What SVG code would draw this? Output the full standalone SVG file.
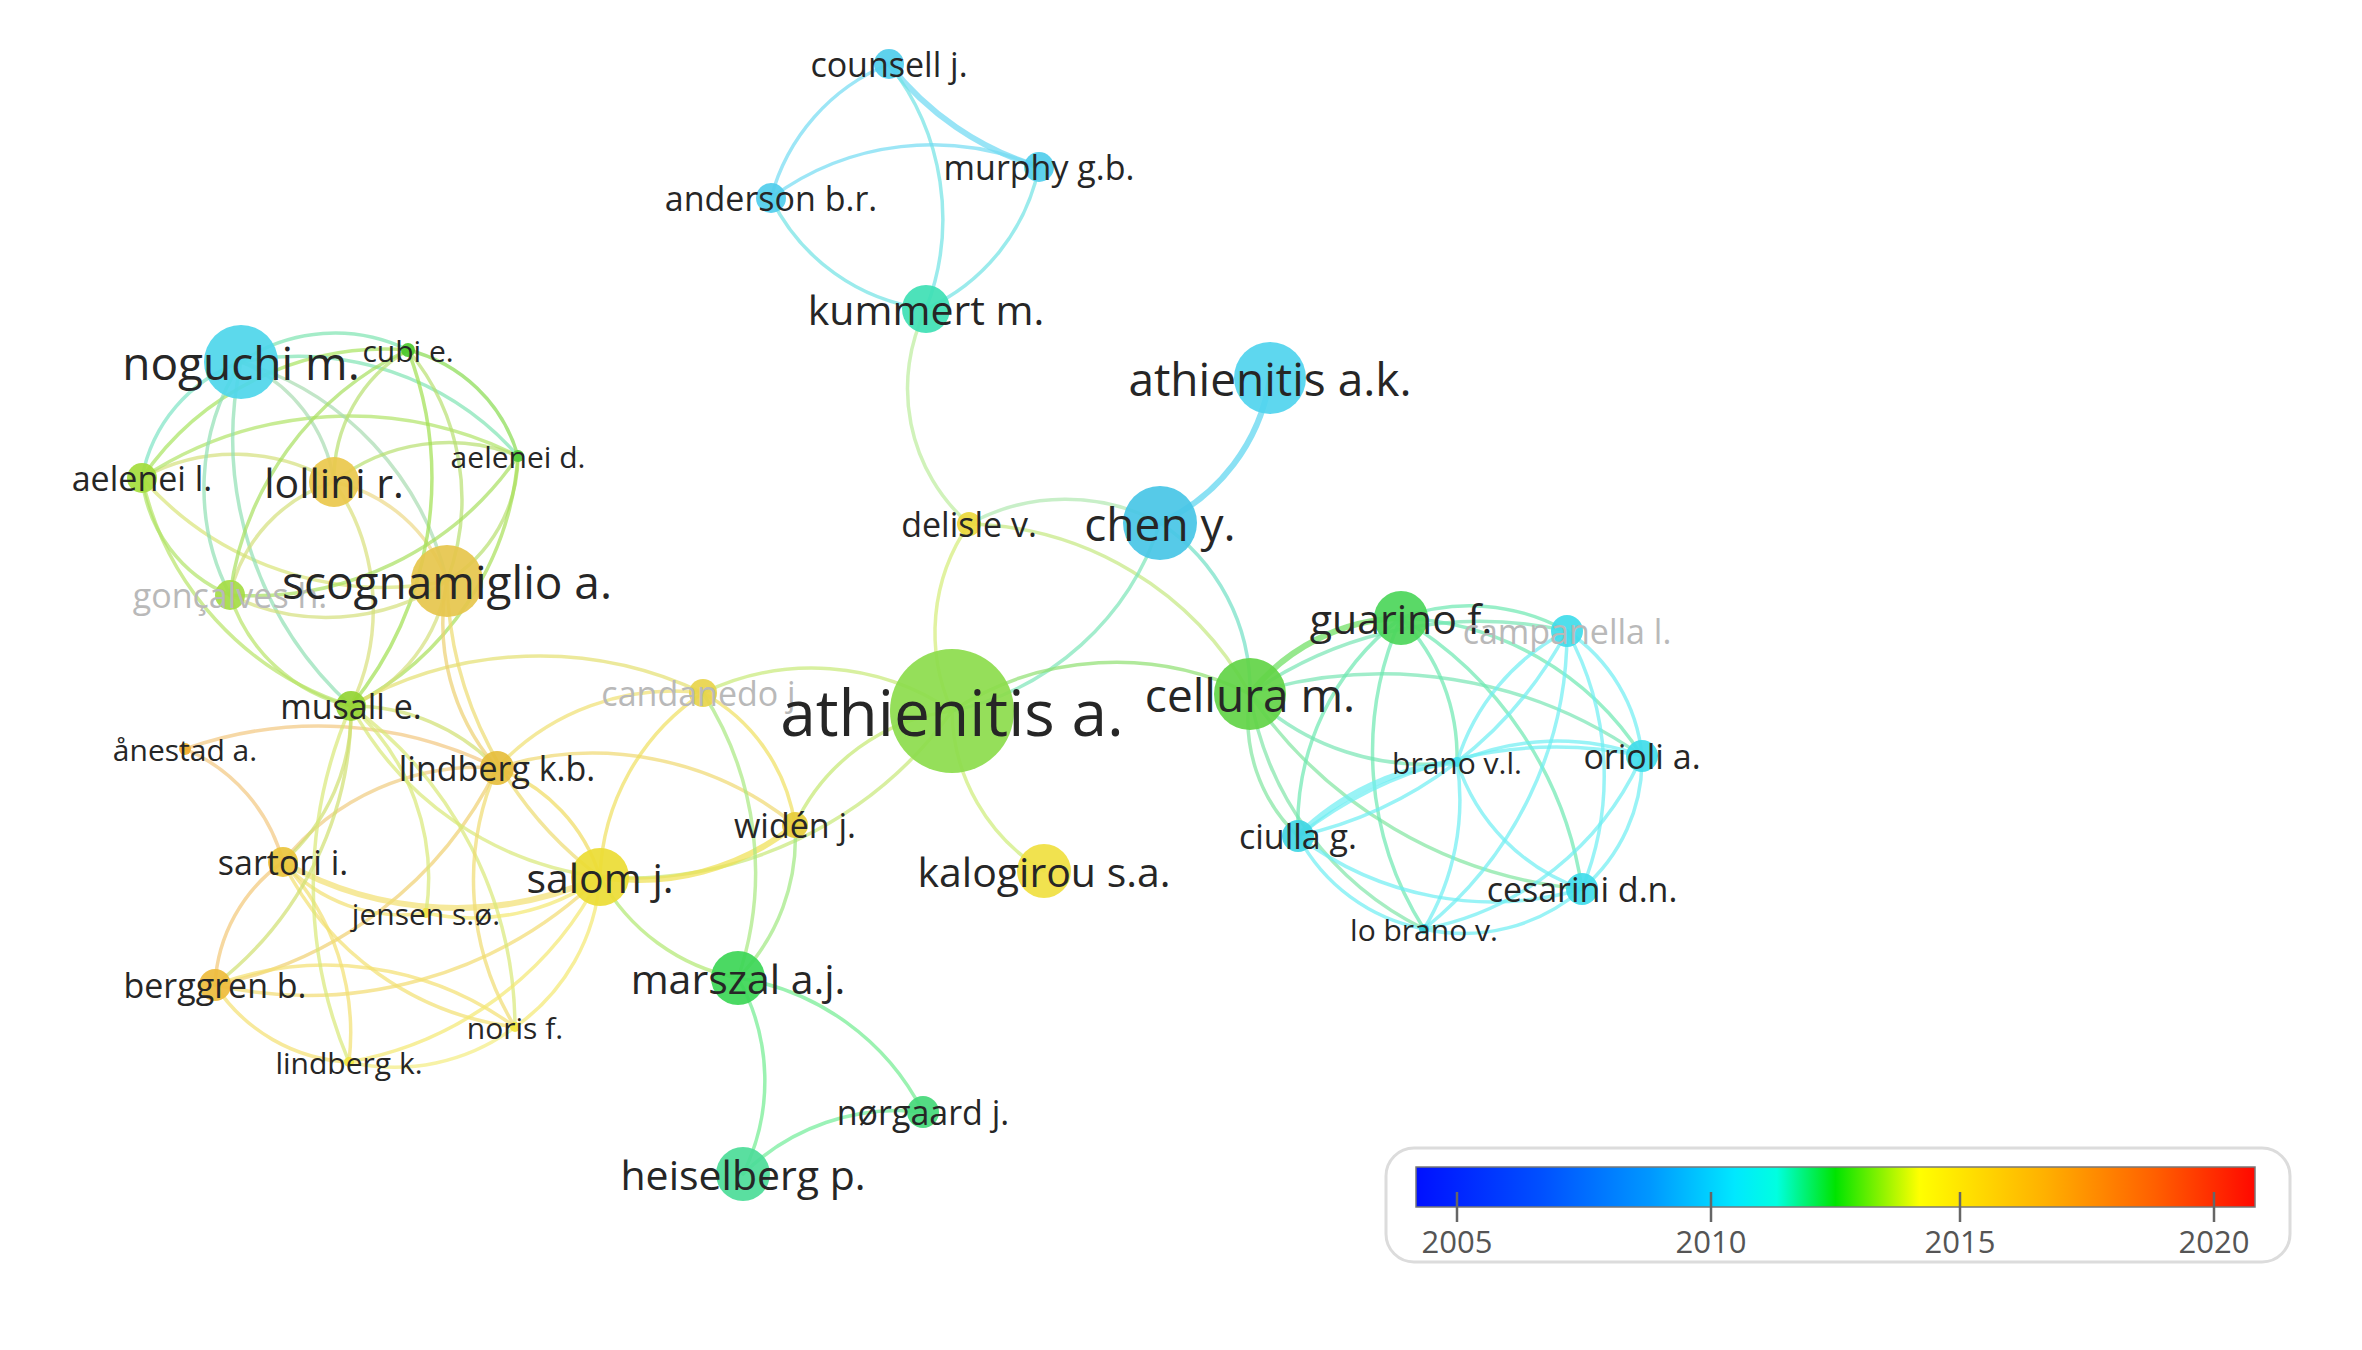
<svg xmlns="http://www.w3.org/2000/svg" width="2362" height="1350" viewBox="0 0 2362 1350">
<style>
.e{fill:none;stroke-width:3.5;stroke-opacity:.7;stroke-linecap:round}
.w{stroke-width:6}
circle{fill-opacity:.92}
text{font-family:"Open Sans","Noto Sans","Liberation Sans",sans-serif;text-anchor:middle;dominant-baseline:central;fill:#262626}
.xl{font-size:64px}.lg{font-size:46px}.md{font-size:41px}.sm{font-size:34px}.xs{font-size:30px}
.gr{fill:#b9b9b9}
.lt{font-size:31px;fill:#555}
</style>
<defs>
<linearGradient id="cb" x1="0" y1="0" x2="1" y2="0">
<stop offset="0" stop-color="#0010ff"/>
<stop offset="0.15" stop-color="#0050ff"/>
<stop offset="0.28" stop-color="#0098ff"/>
<stop offset="0.38" stop-color="#00e8ff"/>
<stop offset="0.43" stop-color="#00ffe0"/>
<stop offset="0.5" stop-color="#00e400"/>
<stop offset="0.6" stop-color="#ffff00"/>
<stop offset="0.75" stop-color="#ffb000"/>
<stop offset="0.88" stop-color="#ff6000"/>
<stop offset="1" stop-color="#ff0800"/>
</linearGradient>
</defs>
<rect width="2362" height="1350" fill="#ffffff"/>
<g id="connectors">
<path class="e w" stroke="#6cd8f2" d="M889 64 A300 300 0 0 0 1039 167"/>
<path class="e" stroke="#74dcf2" d="M889 64 A200 200 0 0 0 771 198"/>
<path class="e" stroke="#70e2e4" d="M889 64 A250 250 0 0 1 926 309"/>
<path class="e" stroke="#74dcf2" d="M771 198 A270 270 0 0 1 1039 167"/>
<path class="e" stroke="#70e2e4" d="M771 198 A200 200 0 0 0 926 309"/>
<path class="e" stroke="#70e2e4" d="M1039 167 A200 200 0 0 1 926 309"/>
<path class="e" stroke="#bcec9c" d="M926 309 A180 180 0 0 0 969 524"/>
<path class="e w" stroke="#58d4f0" d="M1270 378 A190 190 0 0 1 1160 523"/>
<path class="e" stroke="#b0e8b0" d="M969 524 A200 200 0 0 1 1160 523"/>
<path class="e" stroke="#c4e880" d="M969 524 A330 330 0 0 1 1250 694"/>
<path class="e" stroke="#d4ec78" d="M969 524 A190 190 0 0 0 952 711"/>
<path class="e" stroke="#7ce6b8" d="M1160 523 A280 280 0 0 1 952 711"/>
<path class="e" stroke="#70e0c4" d="M1160 523 A200 200 0 0 1 1250 694"/>
<path class="e" stroke="#8ee070" d="M952 711 A300 300 0 0 1 1250 694"/>
<path class="e" stroke="#cdec78" d="M952 711 A190 190 0 0 0 1044 871"/>
<path class="e" stroke="#c4e870" d="M952 711 A200 200 0 0 0 795 825"/>
<path class="e" stroke="#c8ea78" d="M952 711 A250 250 0 0 0 703 693"/>
<path class="e" stroke="#c8e878" d="M600 877 A400 400 0 0 0 952 711"/>
<path class="e w" stroke="#6ade5c" d="M1250 694 A200 200 0 0 1 1401 618"/>
<path class="e" stroke="#78e6b4" d="M1250 694 A400 400 0 0 1 1567 631"/>
<path class="e" stroke="#78e6b4" d="M1250 694 A450 450 0 0 1 1642 756"/>
<path class="e" stroke="#78e6b4" d="M1250 694 A250 250 0 0 0 1457 762"/>
<path class="e" stroke="#80e6a0" d="M1250 694 A160 160 0 0 0 1298 836"/>
<path class="e" stroke="#80e6a0" d="M1250 694 A450 450 0 0 0 1582 889"/>
<path class="e" stroke="#80e6a8" d="M1250 694 A320 320 0 0 0 1424 929"/>
<path class="e" stroke="#6ce8b0" d="M1401 618 A200 200 0 0 1 1567 631"/>
<path class="e" stroke="#6ce8b0" d="M1401 618 A300 300 0 0 1 1642 756"/>
<path class="e" stroke="#6ce8b0" d="M1401 618 A260 260 0 0 0 1298 836"/>
<path class="e" stroke="#6ce8b0" d="M1401 618 A380 380 0 0 1 1582 889"/>
<path class="e" stroke="#6ce8b0" d="M1401 618 A330 330 0 0 0 1424 929"/>
<path class="e" stroke="#6ce8b0" d="M1401 618 A200 200 0 0 1 1457 762"/>
<path class="e" stroke="#6eeef2" d="M1567 631 A170 170 0 0 1 1642 756"/>
<path class="e" stroke="#6eeef2" d="M1567 631 A400 400 0 0 1 1298 836"/>
<path class="e" stroke="#6eeef2" d="M1567 631 A300 300 0 0 1 1582 889"/>
<path class="e" stroke="#6eeef2" d="M1567 631 A380 380 0 0 1 1424 929"/>
<path class="e" stroke="#6eeef2" d="M1567 631 A220 220 0 0 0 1457 762"/>
<path class="e" stroke="#6eeef2" d="M1642 756 A420 420 0 0 0 1298 836"/>
<path class="e" stroke="#6eeef2" d="M1642 756 A170 170 0 0 1 1582 889"/>
<path class="e" stroke="#6eeef2" d="M1642 756 A250 250 0 0 0 1457 762"/>
<path class="e" stroke="#6eeef2" d="M1642 756 A300 300 0 0 1 1424 929"/>
<path class="e" stroke="#6eeef2" d="M1298 836 A320 320 0 0 0 1582 889"/>
<path class="e" stroke="#6eeef2" d="M1298 836 A180 180 0 0 0 1424 929"/>
<path class="e w" stroke="#6eeef2" d="M1298 836 A260 260 0 0 1 1457 762"/>
<path class="e" stroke="#6eeef2" d="M1582 889 A180 180 0 0 1 1424 929"/>
<path class="e" stroke="#6eeef2" d="M1457 762 A200 200 0 0 0 1582 889"/>
<path class="e" stroke="#6eeef2" d="M1457 762 A250 250 0 0 1 1424 929"/>
<path class="e" stroke="#7ee4c4" d="M142 478 A152 152 0 0 1 241 362"/>
<path class="e" stroke="#d4e07c" d="M142 478 A192 192 0 0 1 334 482"/>
<path class="e" stroke="#a8e460" d="M142 478 A295 295 0 0 1 408 350"/>
<path class="e" stroke="#b0e468" d="M142 478 A377 377 0 0 1 518 456"/>
<path class="e" stroke="#d8e478" d="M447 581 A322 322 0 0 1 142 478"/>
<path class="e" stroke="#b8e468" d="M351 706 A309 309 0 0 1 142 478"/>
<path class="e" stroke="#b0e468" d="M230 595 A143 143 0 0 1 142 478"/>
<path class="e" stroke="#a8dcb0" d="M241 362 A154 154 0 0 1 334 482"/>
<path class="e" stroke="#7ee4b0" d="M241 362 A167 167 0 0 1 408 350"/>
<path class="e" stroke="#80e4b4" d="M241 362 A293 293 0 0 1 518 456"/>
<path class="e" stroke="#a8dcb0" d="M241 362 A301 301 0 0 1 447 581"/>
<path class="e" stroke="#90e0b4" d="M351 706 A362 362 0 0 1 241 362"/>
<path class="e" stroke="#90e0b4" d="M230 595 A233 233 0 0 1 241 362"/>
<path class="e" stroke="#b8e070" d="M334 482 A150 150 0 0 1 408 350"/>
<path class="e" stroke="#b8e070" d="M334 482 A186 186 0 0 1 518 456"/>
<path class="e" stroke="#ecd888" d="M334 482 A156 156 0 0 1 447 581"/>
<path class="e" stroke="#d8e07c" d="M334 482 A224 224 0 0 1 351 706"/>
<path class="e" stroke="#d4e07c" d="M230 595 A153 153 0 0 1 334 482"/>
<path class="e" stroke="#88dc50" d="M408 350 A153 153 0 0 1 518 456"/>
<path class="e" stroke="#b8e070" d="M408 350 A233 233 0 0 1 447 581"/>
<path class="e" stroke="#a0e050" d="M408 350 A360 360 0 0 1 351 706"/>
<path class="e" stroke="#a8e060" d="M230 595 A315 315 0 0 1 408 350"/>
<path class="e" stroke="#b8e070" d="M518 456 A147 147 0 0 1 447 581"/>
<path class="e" stroke="#a8e058" d="M518 456 A305 305 0 0 1 351 706"/>
<path class="e" stroke="#a8e060" d="M518 456 A321 321 0 0 1 230 595"/>
<path class="e" stroke="#d4e07c" d="M447 581 A162 162 0 0 1 351 706"/>
<path class="e" stroke="#d4e07c" d="M447 581 A218 218 0 0 1 230 595"/>
<path class="e" stroke="#b8e468" d="M351 706 A165 165 0 0 1 230 595"/>
<path class="e" stroke="#f2c880" d="M185 749 A400 400 0 0 1 497 768"/>
<path class="e" stroke="#f2c880" d="M185 749 A170 170 0 0 1 283 862"/>
<path class="e" stroke="#f0cc80" d="M283 862 A250 250 0 0 1 497 768"/>
<path class="e" stroke="#f2c878" d="M283 862 A160 160 0 0 0 215 985"/>
<path class="e" stroke="#f0d070" d="M215 985 A400 400 0 0 0 497 768"/>
<path class="e" stroke="#f2dc70" d="M215 985 A420 420 0 0 0 600 877"/>
<path class="e" stroke="#f4e070" d="M215 985 A320 320 0 0 1 515 1027"/>
<path class="e" stroke="#f4e070" d="M215 985 A170 170 0 0 0 349 1062"/>
<path class="e w" stroke="#f2e070" d="M283 862 A350 350 0 0 0 600 877"/>
<path class="e" stroke="#f2e070" d="M283 862 A160 160 0 0 0 426 913"/>
<path class="e" stroke="#f2e070" d="M283 862 A300 300 0 0 0 515 1027"/>
<path class="e" stroke="#f2e070" d="M283 862 A250 250 0 0 1 349 1062"/>
<path class="e" stroke="#d0e070" d="M351 706 A200 200 0 0 1 283 862"/>
<path class="e" stroke="#d0e070" d="M351 706 A350 350 0 0 1 215 985"/>
<path class="e" stroke="#d8e878" d="M351 706 A450 450 0 0 0 349 1062"/>
<path class="e" stroke="#d8e878" d="M351 706 A400 400 0 0 1 515 1027"/>
<path class="e" stroke="#d0e070" d="M351 706 A200 200 0 0 1 497 768"/>
<path class="e" stroke="#d8e878" d="M351 706 A330 330 0 0 0 600 877"/>
<path class="e" stroke="#d8e878" d="M351 706 A230 230 0 0 1 426 913"/>
<path class="e" stroke="#f0dc60" d="M497 768 A170 170 0 0 1 600 877"/>
<path class="e" stroke="#f0d870" d="M497 768 A320 320 0 0 1 795 825"/>
<path class="e" stroke="#f0dc70" d="M497 768 A280 280 0 0 0 515 1027"/>
<path class="e" stroke="#f0e060" d="M600 877 A230 230 0 0 1 703 693"/>
<path class="e w" stroke="#f0e050" d="M600 877 A250 250 0 0 0 795 825"/>
<path class="e" stroke="#b0e870" d="M600 877 A200 200 0 0 0 738 978"/>
<path class="e" stroke="#f4e870" d="M600 877 A350 350 0 0 1 349 1062"/>
<path class="e" stroke="#f4e870" d="M600 877 A200 200 0 0 1 515 1027"/>
<path class="e" stroke="#f4e870" d="M600 877 A220 220 0 0 1 426 913"/>
<path class="e" stroke="#f0e060" d="M703 693 A180 180 0 0 1 795 825"/>
<path class="e" stroke="#e4e070" d="M703 693 A380 380 0 0 0 351 706"/>
<path class="e" stroke="#f0e070" d="M703 693 A240 240 0 0 0 497 768"/>
<path class="e" stroke="#a8e880" d="M703 693 A330 330 0 0 1 738 978"/>
<path class="e" stroke="#a0e880" d="M795 825 A200 200 0 0 1 738 978"/>
<path class="e" stroke="#70ec90" d="M738 978 A210 210 0 0 1 743 1174"/>
<path class="e" stroke="#70ec90" d="M738 978 A250 250 0 0 1 923 1112"/>
<path class="e" stroke="#70ec98" d="M743 1174 A220 220 0 0 1 923 1112"/>
<path class="e" stroke="#f4ec80" d="M349 1062 A200 200 0 0 0 515 1027"/>
<path class="e" stroke="#ecd070" d="M447 581 A220 220 0 0 0 497 768"/>
<path class="e" stroke="#ecdc70" d="M447 581 A380 380 0 0 0 600 877"/>
</g>
<g id="n-counsell"><circle cx="889" cy="64" r="15" fill="#50cdec"/><text class="sm" x="889" y="64">counsell j.</text></g>
<g id="n-murphy"><circle cx="1039" cy="167" r="15" fill="#50cdec"/><text class="sm" x="1039" y="167">murphy g.b.</text></g>
<g id="n-anderson"><circle cx="771" cy="198" r="15" fill="#50cdec"/><text class="sm" x="771" y="198">anderson b.r.</text></g>
<g id="n-kummert"><circle cx="926" cy="309" r="24" fill="#3ee0b4"/><text class="md" x="926" y="309">kummert m.</text></g>
<g id="n-athienitis-ak"><circle cx="1270" cy="378" r="36" fill="#50d4ee"/><text class="lg" x="1270" y="378">athienitis a.k.</text></g>
<g id="n-chen"><circle cx="1160" cy="523" r="37" fill="#48c6e6"/><text class="lg" x="1160" y="523">chen y.</text></g>
<g id="n-delisle"><circle cx="969" cy="524" r="12" fill="#ecd83c"/><text class="sm" x="969" y="524">delisle v.</text></g>
<g id="n-candanedo"><circle cx="703" cy="693" r="14" fill="#e8d44a"/><text class="sm gr" x="703" y="693">candanedo j.</text></g>
<g id="n-athienitis-a"><circle cx="952" cy="711" r="62" fill="#8cdc4c"/><text class="xl" x="952" y="711">athienitis a.</text></g>
<g id="n-cellura"><circle cx="1250" cy="694" r="36" fill="#62d446"/><text class="lg" x="1250" y="694">cellura m.</text></g>
<g id="n-guarino"><circle cx="1401" cy="618" r="27" fill="#4cd65a"/><text class="md" x="1401" y="618">guarino f.</text></g>
<g id="n-campanella"><circle cx="1567" cy="631" r="16" fill="#40dcea"/><text class="sm gr" x="1567" y="631">campanella l.</text></g>
<g id="n-orioli"><circle cx="1642" cy="756" r="16" fill="#40dcea"/><text class="sm" x="1642" y="756">orioli a.</text></g>
<g id="n-brano"><circle cx="1457" cy="762" r="5" fill="#40dcea"/><text class="xs" x="1457" y="762">brano v.l.</text></g>
<g id="n-ciulla"><circle cx="1298" cy="836" r="16" fill="#40d6e4"/><text class="sm" x="1298" y="836">ciulla g.</text></g>
<g id="n-cesarini"><circle cx="1582" cy="889" r="16" fill="#40dcea"/><text class="sm" x="1582" y="889">cesarini d.n.</text></g>
<g id="n-lobrano"><circle cx="1424" cy="929" r="5" fill="#30c8d8"/><text class="xs" x="1424" y="929">lo brano v.</text></g>
<g id="n-kalogirou"><circle cx="1044" cy="871" r="27" fill="#f0e040"/><text class="md" x="1044" y="871">kalogirou s.a.</text></g>
<g id="n-widen"><circle cx="795" cy="825" r="13" fill="#e6cc3a"/><text class="sm" x="795" y="825">widén j.</text></g>
<g id="n-salom"><circle cx="600" cy="877" r="29" fill="#ecdc34"/><text class="md" x="600" y="877">salom j.</text></g>
<g id="n-marszal"><circle cx="738" cy="978" r="27" fill="#3cd656"/><text class="md" x="738" y="978">marszal a.j.</text></g>
<g id="n-heiselberg"><circle cx="743" cy="1174" r="27" fill="#4cdc98"/><text class="md" x="743" y="1174">heiselberg p.</text></g>
<g id="n-norgaard"><circle cx="923" cy="1112" r="16" fill="#44d878"/><text class="sm" x="923" y="1112">nørgaard j.</text></g>
<g id="n-noguchi"><circle cx="241" cy="362" r="37" fill="#4ed6ea"/><text class="lg" x="241" y="362">noguchi m.</text></g>
<g id="n-cubi"><circle cx="408" cy="350" r="7" fill="#4cc82c"/><text class="xs" x="408" y="350">cubi e.</text></g>
<g id="n-aelenei-d"><circle cx="518" cy="456" r="6" fill="#50cc38"/><text class="xs" x="518" y="456">aelenei d.</text></g>
<g id="n-aelenei-l"><circle cx="142" cy="478" r="15" fill="#a4dc3c"/><text class="sm" x="142" y="478">aelenei l.</text></g>
<g id="n-lollini"><circle cx="334" cy="482" r="25" fill="#eac84c"/><text class="md" x="334" y="482">lollini r.</text></g>
<g id="n-goncalves"><circle cx="230" cy="595" r="15" fill="#a4dc44"/><text class="sm gr" x="230" y="595">gonçalves h.</text></g>
<g id="n-scognamiglio"><circle cx="447" cy="581" r="36" fill="#e6c64c"/><text class="lg" x="447" y="581">scognamiglio a.</text></g>
<g id="n-musall"><circle cx="351" cy="706" r="15" fill="#94d434"/><text class="sm" x="351" y="706">musall e.</text></g>
<g id="n-anestad"><circle cx="185" cy="749" r="6" fill="#f0ac2c"/><text class="xs" x="185" y="749">ånestad a.</text></g>
<g id="n-lindberg-kb"><circle cx="497" cy="768" r="17" fill="#e6be3c"/><text class="sm" x="497" y="768">lindberg k.b.</text></g>
<g id="n-sartori"><circle cx="283" cy="862" r="15" fill="#eac43c"/><text class="sm" x="283" y="862">sartori i.</text></g>
<g id="n-jensen"><circle cx="426" cy="913" r="5" fill="#f0e040"/><text class="xs" x="426" y="913">jensen s.ø.</text></g>
<g id="n-berggren"><circle cx="215" cy="985" r="16" fill="#eebc3c"/><text class="sm" x="215" y="985">berggren b.</text></g>
<g id="n-noris"><circle cx="515" cy="1027" r="5" fill="#f2e640"/><text class="xs" x="515" y="1027">noris f.</text></g>
<g id="n-lindberg-k"><circle cx="349" cy="1062" r="5" fill="#f2e640"/><text class="xs" x="349" y="1062">lindberg k.</text></g>
<g id="legend">
<rect x="1386" y="1148" width="904" height="114" rx="28" fill="#ffffff" stroke="#dcdcdc" stroke-width="3"/>
<rect x="1416" y="1167" width="839" height="40" fill="url(#cb)" stroke="#777" stroke-width="1.5"/>
<g stroke="#666" stroke-width="2.5">
<line x1="1457" y1="1192" x2="1457" y2="1222"/>
<line x1="1711" y1="1192" x2="1711" y2="1222"/>
<line x1="1960" y1="1192" x2="1960" y2="1222"/>
<line x1="2214" y1="1192" x2="2214" y2="1222"/>
</g>
<text class="lt" x="1457" y="1241">2005</text>
<text class="lt" x="1711" y="1241">2010</text>
<text class="lt" x="1960" y="1241">2015</text>
<text class="lt" x="2214" y="1241">2020</text>
</g>
</svg>
